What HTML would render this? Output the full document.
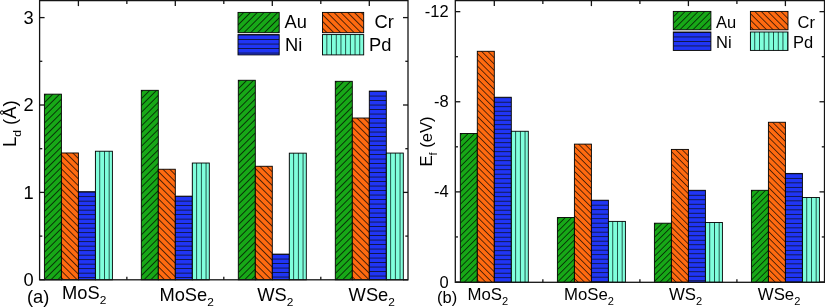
<!DOCTYPE html>
<html><head><meta charset="utf-8"><style>
html,body{margin:0;padding:0;background:#fff;}
svg{display:block;will-change:transform;}
text{font-family:"Liberation Sans", sans-serif;fill:#000;}
pattern line{shape-rendering:crispEdges;}
</style></head><body>
<svg width="825" height="307" viewBox="0 0 825 307">
<defs>
<pattern id="p1" patternUnits="userSpaceOnUse" width="30" height="4.81" patternTransform="translate(44.4,94.16) rotate(-45) translate(0,0.71)"><rect x="-1" y="-1" width="32" height="6.81" fill="#17a817"/><line x1="0" y1="0" x2="30" y2="0" stroke="#000" stroke-width="0.7"/><line x1="0" y1="4.81" x2="30" y2="4.81" stroke="#000" stroke-width="0.7"/></pattern>
<pattern id="p2" patternUnits="userSpaceOnUse" width="30" height="4.81" patternTransform="translate(61.4,152.98) rotate(45) translate(0,1.06)"><rect x="-1" y="-1" width="32" height="6.81" fill="#ff6a10"/><line x1="0" y1="0" x2="30" y2="0" stroke="#000" stroke-width="0.7"/><line x1="0" y1="4.81" x2="30" y2="4.81" stroke="#000" stroke-width="0.7"/></pattern>
<pattern id="p3" patternUnits="userSpaceOnUse" x="78.4" y="194.4" width="30" height="4.5"><rect x="-1" y="-1" width="32" height="6.5" fill="#2035f5"/><line x1="0" y1="2.25" x2="30" y2="2.25" stroke="#101540" stroke-width="1"/></pattern>
<pattern id="p4" patternUnits="userSpaceOnUse" x="97.4" y="151.23" width="4.7" height="30"><rect x="-1" y="-1" width="6.7" height="32" fill="#80ffdc"/><line x1="2.35" y1="0" x2="2.35" y2="30" stroke="#1c4d42" stroke-width="1"/></pattern>
<pattern id="p5" patternUnits="userSpaceOnUse" width="30" height="4.81" patternTransform="translate(141.3,90.32) rotate(-45) translate(0,0.71)"><rect x="-1" y="-1" width="32" height="6.81" fill="#17a817"/><line x1="0" y1="0" x2="30" y2="0" stroke="#000" stroke-width="0.7"/><line x1="0" y1="4.81" x2="30" y2="4.81" stroke="#000" stroke-width="0.7"/></pattern>
<pattern id="p6" patternUnits="userSpaceOnUse" width="30" height="4.81" patternTransform="translate(158.3,169.24) rotate(45) translate(0,1.06)"><rect x="-1" y="-1" width="32" height="6.81" fill="#ff6a10"/><line x1="0" y1="0" x2="30" y2="0" stroke="#000" stroke-width="0.7"/><line x1="0" y1="4.81" x2="30" y2="4.81" stroke="#000" stroke-width="0.7"/></pattern>
<pattern id="p7" patternUnits="userSpaceOnUse" x="175.3" y="198.86" width="30" height="4.5"><rect x="-1" y="-1" width="32" height="6.5" fill="#2035f5"/><line x1="0" y1="2.25" x2="30" y2="2.25" stroke="#101540" stroke-width="1"/></pattern>
<pattern id="p8" patternUnits="userSpaceOnUse" x="194.3" y="163.03" width="4.7" height="30"><rect x="-1" y="-1" width="6.7" height="32" fill="#80ffdc"/><line x1="2.35" y1="0" x2="2.35" y2="30" stroke="#1c4d42" stroke-width="1"/></pattern>
<pattern id="p9" patternUnits="userSpaceOnUse" width="30" height="4.81" patternTransform="translate(238.3,80.27) rotate(-45) translate(0,0.71)"><rect x="-1" y="-1" width="32" height="6.81" fill="#17a817"/><line x1="0" y1="0" x2="30" y2="0" stroke="#000" stroke-width="0.7"/><line x1="0" y1="4.81" x2="30" y2="4.81" stroke="#000" stroke-width="0.7"/></pattern>
<pattern id="p10" patternUnits="userSpaceOnUse" width="30" height="4.81" patternTransform="translate(255.3,166.27) rotate(45) translate(0,1.06)"><rect x="-1" y="-1" width="32" height="6.81" fill="#ff6a10"/><line x1="0" y1="0" x2="30" y2="0" stroke="#000" stroke-width="0.7"/><line x1="0" y1="4.81" x2="30" y2="4.81" stroke="#000" stroke-width="0.7"/></pattern>
<pattern id="p11" patternUnits="userSpaceOnUse" x="272.3" y="256.8" width="30" height="4.5"><rect x="-1" y="-1" width="32" height="6.5" fill="#2035f5"/><line x1="0" y1="2.25" x2="30" y2="2.25" stroke="#101540" stroke-width="1"/></pattern>
<pattern id="p12" patternUnits="userSpaceOnUse" x="291.3" y="153.16" width="4.7" height="30"><rect x="-1" y="-1" width="6.7" height="32" fill="#80ffdc"/><line x1="2.35" y1="0" x2="2.35" y2="30" stroke="#1c4d42" stroke-width="1"/></pattern>
<pattern id="p13" patternUnits="userSpaceOnUse" width="30" height="4.81" patternTransform="translate(335.3,81.31) rotate(-45) translate(0,0.71)"><rect x="-1" y="-1" width="32" height="6.81" fill="#17a817"/><line x1="0" y1="0" x2="30" y2="0" stroke="#000" stroke-width="0.7"/><line x1="0" y1="4.81" x2="30" y2="4.81" stroke="#000" stroke-width="0.7"/></pattern>
<pattern id="p14" patternUnits="userSpaceOnUse" width="30" height="4.81" patternTransform="translate(352.3,118.02) rotate(45) translate(0,1.06)"><rect x="-1" y="-1" width="32" height="6.81" fill="#ff6a10"/><line x1="0" y1="0" x2="30" y2="0" stroke="#000" stroke-width="0.7"/><line x1="0" y1="4.81" x2="30" y2="4.81" stroke="#000" stroke-width="0.7"/></pattern>
<pattern id="p15" patternUnits="userSpaceOnUse" x="369.3" y="93.8" width="30" height="4.5"><rect x="-1" y="-1" width="32" height="6.5" fill="#2035f5"/><line x1="0" y1="2.25" x2="30" y2="2.25" stroke="#101540" stroke-width="1"/></pattern>
<pattern id="p16" patternUnits="userSpaceOnUse" x="388.3" y="153.07" width="4.7" height="30"><rect x="-1" y="-1" width="6.7" height="32" fill="#80ffdc"/><line x1="2.35" y1="0" x2="2.35" y2="30" stroke="#1c4d42" stroke-width="1"/></pattern>
<pattern id="p17" patternUnits="userSpaceOnUse" width="30" height="4.45" patternTransform="translate(460.3,133.53) rotate(-45) translate(0,0.71)"><rect x="-1" y="-1" width="32" height="6.45" fill="#17a817"/><line x1="0" y1="0" x2="30" y2="0" stroke="#000" stroke-width="0.7"/><line x1="0" y1="4.45" x2="30" y2="4.45" stroke="#000" stroke-width="0.7"/></pattern>
<pattern id="p18" patternUnits="userSpaceOnUse" width="30" height="4.45" patternTransform="translate(477.3,51.29) rotate(45) translate(0,1.06)"><rect x="-1" y="-1" width="32" height="6.45" fill="#ff6a10"/><line x1="0" y1="0" x2="30" y2="0" stroke="#000" stroke-width="0.7"/><line x1="0" y1="4.45" x2="30" y2="4.45" stroke="#000" stroke-width="0.7"/></pattern>
<pattern id="p19" patternUnits="userSpaceOnUse" x="494.3" y="99.95" width="30" height="4.5"><rect x="-1" y="-1" width="32" height="6.5" fill="#2035f5"/><line x1="0" y1="2.25" x2="30" y2="2.25" stroke="#101540" stroke-width="1"/></pattern>
<pattern id="p20" patternUnits="userSpaceOnUse" x="513.3" y="131.27" width="4.7" height="30"><rect x="-1" y="-1" width="6.7" height="32" fill="#80ffdc"/><line x1="2.35" y1="0" x2="2.35" y2="30" stroke="#1c4d42" stroke-width="1"/></pattern>
<pattern id="p21" patternUnits="userSpaceOnUse" width="30" height="4.45" patternTransform="translate(557.4,217.56) rotate(-45) translate(0,0.71)"><rect x="-1" y="-1" width="32" height="6.45" fill="#17a817"/><line x1="0" y1="0" x2="30" y2="0" stroke="#000" stroke-width="0.7"/><line x1="0" y1="4.45" x2="30" y2="4.45" stroke="#000" stroke-width="0.7"/></pattern>
<pattern id="p22" patternUnits="userSpaceOnUse" width="30" height="4.45" patternTransform="translate(574.4,144.12) rotate(45) translate(0,1.06)"><rect x="-1" y="-1" width="32" height="6.45" fill="#ff6a10"/><line x1="0" y1="0" x2="30" y2="0" stroke="#000" stroke-width="0.7"/><line x1="0" y1="4.45" x2="30" y2="4.45" stroke="#000" stroke-width="0.7"/></pattern>
<pattern id="p23" patternUnits="userSpaceOnUse" x="591.4" y="202.92" width="30" height="4.5"><rect x="-1" y="-1" width="32" height="6.5" fill="#2035f5"/><line x1="0" y1="2.25" x2="30" y2="2.25" stroke="#101540" stroke-width="1"/></pattern>
<pattern id="p24" patternUnits="userSpaceOnUse" x="610.4" y="221.39" width="4.7" height="30"><rect x="-1" y="-1" width="6.7" height="32" fill="#80ffdc"/><line x1="2.35" y1="0" x2="2.35" y2="30" stroke="#1c4d42" stroke-width="1"/></pattern>
<pattern id="p25" patternUnits="userSpaceOnUse" width="30" height="4.45" patternTransform="translate(654.4,223.2) rotate(-45) translate(0,0.71)"><rect x="-1" y="-1" width="32" height="6.45" fill="#17a817"/><line x1="0" y1="0" x2="30" y2="0" stroke="#000" stroke-width="0.7"/><line x1="0" y1="4.45" x2="30" y2="4.45" stroke="#000" stroke-width="0.7"/></pattern>
<pattern id="p26" patternUnits="userSpaceOnUse" width="30" height="4.45" patternTransform="translate(671.4,149.41) rotate(45) translate(0,1.06)"><rect x="-1" y="-1" width="32" height="6.45" fill="#ff6a10"/><line x1="0" y1="0" x2="30" y2="0" stroke="#000" stroke-width="0.7"/><line x1="0" y1="4.45" x2="30" y2="4.45" stroke="#000" stroke-width="0.7"/></pattern>
<pattern id="p27" patternUnits="userSpaceOnUse" x="688.4" y="193" width="30" height="4.5"><rect x="-1" y="-1" width="32" height="6.5" fill="#2035f5"/><line x1="0" y1="2.25" x2="30" y2="2.25" stroke="#101540" stroke-width="1"/></pattern>
<pattern id="p28" patternUnits="userSpaceOnUse" x="707.4" y="222.52" width="4.7" height="30"><rect x="-1" y="-1" width="6.7" height="32" fill="#80ffdc"/><line x1="2.35" y1="0" x2="2.35" y2="30" stroke="#1c4d42" stroke-width="1"/></pattern>
<pattern id="p29" patternUnits="userSpaceOnUse" width="30" height="4.45" patternTransform="translate(751.4,190.3) rotate(-45) translate(0,0.71)"><rect x="-1" y="-1" width="32" height="6.45" fill="#17a817"/><line x1="0" y1="0" x2="30" y2="0" stroke="#000" stroke-width="0.7"/><line x1="0" y1="4.45" x2="30" y2="4.45" stroke="#000" stroke-width="0.7"/></pattern>
<pattern id="p30" patternUnits="userSpaceOnUse" width="30" height="4.45" patternTransform="translate(768.4,122.26) rotate(45) translate(0,1.06)"><rect x="-1" y="-1" width="32" height="6.45" fill="#ff6a10"/><line x1="0" y1="0" x2="30" y2="0" stroke="#000" stroke-width="0.7"/><line x1="0" y1="4.45" x2="30" y2="4.45" stroke="#000" stroke-width="0.7"/></pattern>
<pattern id="p31" patternUnits="userSpaceOnUse" x="785.4" y="176.11" width="30" height="4.5"><rect x="-1" y="-1" width="32" height="6.5" fill="#2035f5"/><line x1="0" y1="2.25" x2="30" y2="2.25" stroke="#101540" stroke-width="1"/></pattern>
<pattern id="p32" patternUnits="userSpaceOnUse" x="804.4" y="197.51" width="4.7" height="30"><rect x="-1" y="-1" width="6.7" height="32" fill="#80ffdc"/><line x1="2.35" y1="0" x2="2.35" y2="30" stroke="#1c4d42" stroke-width="1"/></pattern>
<pattern id="p33" patternUnits="userSpaceOnUse" width="30" height="4.81" patternTransform="translate(238,12.4) rotate(-45) translate(0,-1.2)"><rect x="-1" y="-1" width="32" height="6.81" fill="#17a817"/><line x1="0" y1="0" x2="30" y2="0" stroke="#000" stroke-width="0.7"/><line x1="0" y1="4.81" x2="30" y2="4.81" stroke="#000" stroke-width="0.7"/></pattern>
<pattern id="p34" patternUnits="userSpaceOnUse" width="30" height="4.81" patternTransform="translate(322.5,12.4) rotate(45) translate(0,1.06)"><rect x="-1" y="-1" width="32" height="6.81" fill="#ff6a10"/><line x1="0" y1="0" x2="30" y2="0" stroke="#000" stroke-width="0.7"/><line x1="0" y1="4.81" x2="30" y2="4.81" stroke="#000" stroke-width="0.7"/></pattern>
<pattern id="p35" patternUnits="userSpaceOnUse" x="238" y="37.3" width="30" height="4.5"><rect x="-1" y="-1" width="32" height="6.5" fill="#2035f5"/><line x1="0" y1="2.25" x2="30" y2="2.25" stroke="#101540" stroke-width="1"/></pattern>
<pattern id="p36" patternUnits="userSpaceOnUse" x="324.5" y="34.6" width="4.7" height="30"><rect x="-1" y="-1" width="6.7" height="32" fill="#80ffdc"/><line x1="2.35" y1="0" x2="2.35" y2="30" stroke="#1c4d42" stroke-width="1"/></pattern>
<pattern id="p37" patternUnits="userSpaceOnUse" width="30" height="4.6" patternTransform="translate(673.3,11.4) rotate(-45) translate(0,-1.2)"><rect x="-1" y="-1" width="32" height="6.6" fill="#17a817"/><line x1="0" y1="0" x2="30" y2="0" stroke="#000" stroke-width="0.7"/><line x1="0" y1="4.6" x2="30" y2="4.6" stroke="#000" stroke-width="0.7"/></pattern>
<pattern id="p38" patternUnits="userSpaceOnUse" width="30" height="4.6" patternTransform="translate(750.4,11.4) rotate(45) translate(0,1.06)"><rect x="-1" y="-1" width="32" height="6.6" fill="#ff6a10"/><line x1="0" y1="0" x2="30" y2="0" stroke="#000" stroke-width="0.7"/><line x1="0" y1="4.6" x2="30" y2="4.6" stroke="#000" stroke-width="0.7"/></pattern>
<pattern id="p39" patternUnits="userSpaceOnUse" x="673.3" y="34.7" width="30" height="4.5"><rect x="-1" y="-1" width="32" height="6.5" fill="#2035f5"/><line x1="0" y1="2.25" x2="30" y2="2.25" stroke="#101540" stroke-width="1"/></pattern>
<pattern id="p40" patternUnits="userSpaceOnUse" x="752.4" y="32" width="4.7" height="30"><rect x="-1" y="-1" width="6.7" height="32" fill="#80ffdc"/><line x1="2.35" y1="0" x2="2.35" y2="30" stroke="#1c4d42" stroke-width="1"/></pattern>
</defs>
<rect width="825" height="307" fill="#fff"/>
<rect x="44.4" y="94.16" width="17" height="185.64" fill="url(#p1)" stroke="#000" stroke-width="0.9"/>
<rect x="61.4" y="152.98" width="17" height="126.82" fill="url(#p2)" stroke="#000" stroke-width="0.9"/>
<rect x="78.4" y="191.7" width="17" height="88.1" fill="url(#p3)" stroke="#000" stroke-width="0.9"/>
<rect x="95.4" y="151.23" width="17" height="128.57" fill="url(#p4)" stroke="#000" stroke-width="0.9"/>
<rect x="141.3" y="90.32" width="17" height="189.48" fill="url(#p5)" stroke="#000" stroke-width="0.9"/>
<rect x="158.3" y="169.24" width="17" height="110.56" fill="url(#p6)" stroke="#000" stroke-width="0.9"/>
<rect x="175.3" y="196.16" width="17" height="83.64" fill="url(#p7)" stroke="#000" stroke-width="0.9"/>
<rect x="192.3" y="163.03" width="17" height="116.77" fill="url(#p8)" stroke="#000" stroke-width="0.9"/>
<rect x="238.3" y="80.27" width="17" height="199.53" fill="url(#p9)" stroke="#000" stroke-width="0.9"/>
<rect x="255.3" y="166.27" width="17" height="113.53" fill="url(#p10)" stroke="#000" stroke-width="0.9"/>
<rect x="272.3" y="254.1" width="17" height="25.7" fill="url(#p11)" stroke="#000" stroke-width="0.9"/>
<rect x="289.3" y="153.16" width="17" height="126.64" fill="url(#p12)" stroke="#000" stroke-width="0.9"/>
<rect x="335.3" y="81.31" width="17" height="198.49" fill="url(#p13)" stroke="#000" stroke-width="0.9"/>
<rect x="352.3" y="118.02" width="17" height="161.78" fill="url(#p14)" stroke="#000" stroke-width="0.9"/>
<rect x="369.3" y="91.1" width="17" height="188.7" fill="url(#p15)" stroke="#000" stroke-width="0.9"/>
<rect x="386.3" y="153.07" width="17" height="126.73" fill="url(#p16)" stroke="#000" stroke-width="0.9"/>
<rect x="460.3" y="133.53" width="17" height="148.77" fill="url(#p17)" stroke="#000" stroke-width="0.9"/>
<rect x="477.3" y="51.29" width="17" height="231.01" fill="url(#p18)" stroke="#000" stroke-width="0.9"/>
<rect x="494.3" y="97.25" width="17" height="185.05" fill="url(#p19)" stroke="#000" stroke-width="0.9"/>
<rect x="511.3" y="131.27" width="17" height="151.03" fill="url(#p20)" stroke="#000" stroke-width="0.9"/>
<rect x="557.4" y="217.56" width="17" height="64.74" fill="url(#p21)" stroke="#000" stroke-width="0.9"/>
<rect x="574.4" y="144.12" width="17" height="138.18" fill="url(#p22)" stroke="#000" stroke-width="0.9"/>
<rect x="591.4" y="200.22" width="17" height="82.08" fill="url(#p23)" stroke="#000" stroke-width="0.9"/>
<rect x="608.4" y="221.39" width="17" height="60.91" fill="url(#p24)" stroke="#000" stroke-width="0.9"/>
<rect x="654.4" y="223.2" width="17" height="59.1" fill="url(#p25)" stroke="#000" stroke-width="0.9"/>
<rect x="671.4" y="149.41" width="17" height="132.89" fill="url(#p26)" stroke="#000" stroke-width="0.9"/>
<rect x="688.4" y="190.3" width="17" height="92" fill="url(#p27)" stroke="#000" stroke-width="0.9"/>
<rect x="705.4" y="222.52" width="17" height="59.78" fill="url(#p28)" stroke="#000" stroke-width="0.9"/>
<rect x="751.4" y="190.3" width="17" height="92" fill="url(#p29)" stroke="#000" stroke-width="0.9"/>
<rect x="768.4" y="122.26" width="17" height="160.04" fill="url(#p30)" stroke="#000" stroke-width="0.9"/>
<rect x="785.4" y="173.41" width="17" height="108.89" fill="url(#p31)" stroke="#000" stroke-width="0.9"/>
<rect x="802.4" y="197.51" width="17" height="84.79" fill="url(#p32)" stroke="#000" stroke-width="0.9"/>
<g stroke="#141414" stroke-width="1.3" fill="none">
<line x1="39.6" y1="279.8" x2="44.6" y2="279.8"/>
<line x1="408" y1="279.8" x2="403" y2="279.8"/>
<line x1="39.6" y1="192.4" x2="44.6" y2="192.4"/>
<line x1="408" y1="192.4" x2="403" y2="192.4"/>
<line x1="39.6" y1="105" x2="44.6" y2="105"/>
<line x1="408" y1="105" x2="403" y2="105"/>
<line x1="39.6" y1="17.6" x2="44.6" y2="17.6"/>
<line x1="408" y1="17.6" x2="403" y2="17.6"/>
<line x1="39.6" y1="236.1" x2="42.3" y2="236.1"/>
<line x1="408" y1="236.1" x2="405.3" y2="236.1"/>
<line x1="39.6" y1="148.7" x2="42.3" y2="148.7"/>
<line x1="408" y1="148.7" x2="405.3" y2="148.7"/>
<line x1="39.6" y1="61.3" x2="42.3" y2="61.3"/>
<line x1="408" y1="61.3" x2="405.3" y2="61.3"/>
<line x1="78.4" y1="0.6" x2="78.4" y2="6.1"/>
<line x1="175.3" y1="0.6" x2="175.3" y2="6.1"/>
<line x1="272.3" y1="0.6" x2="272.3" y2="6.1"/>
<line x1="369.3" y1="0.6" x2="369.3" y2="6.1"/>
<line x1="126.85" y1="0.6" x2="126.85" y2="3.9"/>
<line x1="126.85" y1="279.8" x2="126.85" y2="276.8"/>
<line x1="223.8" y1="0.6" x2="223.8" y2="3.9"/>
<line x1="223.8" y1="279.8" x2="223.8" y2="276.8"/>
<line x1="320.8" y1="0.6" x2="320.8" y2="3.9"/>
<line x1="320.8" y1="279.8" x2="320.8" y2="276.8"/>
<rect x="39.6" y="0.6" width="368.4" height="279.2" fill="none"/>
<line x1="455.3" y1="282" x2="460.3" y2="282"/>
<line x1="824.5" y1="282" x2="819.5" y2="282"/>
<line x1="455.3" y1="191.88" x2="460.3" y2="191.88"/>
<line x1="824.5" y1="191.88" x2="819.5" y2="191.88"/>
<line x1="455.3" y1="101.76" x2="460.3" y2="101.76"/>
<line x1="824.5" y1="101.76" x2="819.5" y2="101.76"/>
<line x1="455.3" y1="11.64" x2="460.3" y2="11.64"/>
<line x1="824.5" y1="11.64" x2="819.5" y2="11.64"/>
<line x1="455.3" y1="236.94" x2="458" y2="236.94"/>
<line x1="824.5" y1="236.94" x2="821.8" y2="236.94"/>
<line x1="455.3" y1="146.82" x2="458" y2="146.82"/>
<line x1="824.5" y1="146.82" x2="821.8" y2="146.82"/>
<line x1="455.3" y1="56.7" x2="458" y2="56.7"/>
<line x1="824.5" y1="56.7" x2="821.8" y2="56.7"/>
<line x1="494.3" y1="0.6" x2="494.3" y2="6.1"/>
<line x1="591.4" y1="0.6" x2="591.4" y2="6.1"/>
<line x1="688.4" y1="0.6" x2="688.4" y2="6.1"/>
<line x1="785.4" y1="0.6" x2="785.4" y2="6.1"/>
<line x1="542.85" y1="0.6" x2="542.85" y2="3.9"/>
<line x1="542.85" y1="282.3" x2="542.85" y2="279.3"/>
<line x1="639.9" y1="0.6" x2="639.9" y2="3.9"/>
<line x1="639.9" y1="282.3" x2="639.9" y2="279.3"/>
<line x1="736.9" y1="0.6" x2="736.9" y2="3.9"/>
<line x1="736.9" y1="282.3" x2="736.9" y2="279.3"/>
<rect x="455.3" y="0.6" width="369.2" height="281.7" fill="none"/>
</g>
<rect x="238" y="12.4" width="41.2" height="20.3" fill="url(#p33)" stroke="#000" stroke-width="0.9"/>
<rect x="322.5" y="12.4" width="41.2" height="20.3" fill="url(#p34)" stroke="#000" stroke-width="0.9"/>
<rect x="238" y="34.6" width="41.2" height="20.3" fill="url(#p35)" stroke="#000" stroke-width="0.9"/>
<rect x="322.5" y="34.6" width="41.2" height="20.3" fill="url(#p36)" stroke="#000" stroke-width="0.9"/>
<rect x="673.3" y="11.4" width="37.6" height="18.4" fill="url(#p37)" stroke="#000" stroke-width="0.9"/>
<rect x="750.4" y="11.4" width="37.6" height="18.4" fill="url(#p38)" stroke="#000" stroke-width="0.9"/>
<rect x="673.3" y="32" width="37.6" height="18.4" fill="url(#p39)" stroke="#000" stroke-width="0.9"/>
<rect x="750.4" y="32" width="37.6" height="18.4" fill="url(#p40)" stroke="#000" stroke-width="0.9"/>
<text transform="translate(33.6,286.03) scale(1.03,1)" font-size="17.8" text-anchor="end" >0</text>
<text transform="translate(33.6,198.63) scale(1.03,1)" font-size="17.8" text-anchor="end" >1</text>
<text transform="translate(33.6,111.23) scale(1.03,1)" font-size="17.8" text-anchor="end" >2</text>
<text transform="translate(33.6,23.83) scale(1.03,1)" font-size="17.8" text-anchor="end" >3</text>
<text transform="translate(448.6,287.6) scale(1.03,1)" font-size="16" text-anchor="end" >0</text>
<text transform="translate(448.6,197.48) scale(1.03,1)" font-size="16" text-anchor="end" >-4</text>
<text transform="translate(448.6,107.36) scale(1.03,1)" font-size="16" text-anchor="end" >-8</text>
<text transform="translate(448.6,17.24) scale(1.03,1)" font-size="16" text-anchor="end" >-12</text>
<text transform="translate(62,299.1) scale(1.03,1)" font-size="17.8" text-anchor="start" >MoS<tspan font-size="11.57" dy="5.34">2</tspan></text>
<text transform="translate(159.4,300.5) scale(1.03,1)" font-size="17.8" text-anchor="start" >MoSe<tspan font-size="11.57" dy="5.34">2</tspan></text>
<text transform="translate(257.2,300.5) scale(1.03,1)" font-size="17.8" text-anchor="start" >WS<tspan font-size="11.57" dy="5.34">2</tspan></text>
<text transform="translate(348.6,300.9) scale(1.03,1)" font-size="17.8" text-anchor="start" >WSe<tspan font-size="11.57" dy="5.34">2</tspan></text>
<text transform="translate(26.9,302.5) scale(1.03,1)" font-size="17.8" text-anchor="start" >(a)</text>
<text transform="translate(467.5,299.5) scale(1.05,1)" font-size="16" text-anchor="start" >MoS<tspan font-size="10.56" dy="5.44">2</tspan></text>
<text transform="translate(564,299.5) scale(1.05,1)" font-size="16" text-anchor="start" >MoSe<tspan font-size="10.56" dy="5.44">2</tspan></text>
<text transform="translate(669,299.5) scale(1.05,1)" font-size="16" text-anchor="start" >WS<tspan font-size="10.56" dy="5.44">2</tspan></text>
<text transform="translate(757.8,299.5) scale(1.05,1)" font-size="16" text-anchor="start" >WSe<tspan font-size="10.56" dy="5.44">2</tspan></text>
<text transform="translate(437,302.5) scale(1.03,1)" font-size="16" text-anchor="start" >(b)</text>
<text transform="translate(284.5,28) scale(1.03,1)" font-size="17.8" text-anchor="start" >Au</text>
<text transform="translate(374.5,28) scale(1.03,1)" font-size="17.8" text-anchor="start" >Cr</text>
<text transform="translate(285,50.5) scale(1.03,1)" font-size="17.8" text-anchor="start" >Ni</text>
<text transform="translate(369,50.5) scale(1.03,1)" font-size="17.8" text-anchor="start" >Pd</text>
<text transform="translate(716,27.5) scale(1.03,1)" font-size="16" text-anchor="start" >Au</text>
<text transform="translate(797.5,27.5) scale(1.03,1)" font-size="16" text-anchor="start" >Cr</text>
<text transform="translate(716,47.5) scale(1.03,1)" font-size="16" text-anchor="start" >Ni</text>
<text transform="translate(793,47.5) scale(1.03,1)" font-size="16" text-anchor="start" >Pd</text>
<text transform="translate(16,147) rotate(-90) scale(1.04,1)" font-size="17.8">L<tspan font-size="11.57" dy="5.34">d</tspan><tspan dy="-5.34"> (&#197;)</tspan></text>
<text transform="translate(432,166.6) rotate(-90) scale(1.04,1)" font-size="16">E<tspan font-size="10.4" dy="4.8">f</tspan><tspan dy="-4.8"> (eV)</tspan></text>
</svg>
</body></html>
